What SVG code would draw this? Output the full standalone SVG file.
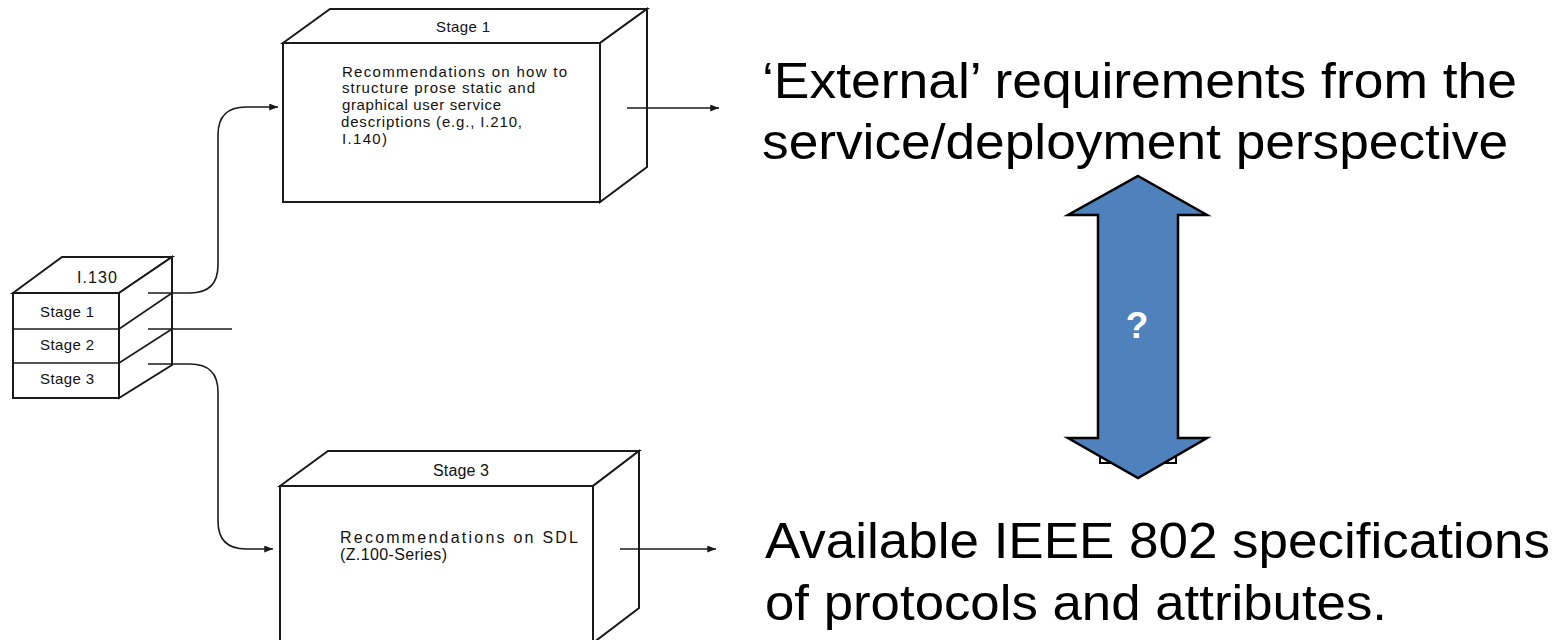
<svg xmlns="http://www.w3.org/2000/svg" width="1565" height="640" viewBox="0 0 1565 640">
<defs>
<style>
.box{fill:#fff;stroke:#1a1a1a;stroke-width:2;stroke-linejoin:miter}
.ln{fill:none;stroke:#1a1a1a;stroke-width:1.6}
.sm{font-family:"Liberation Sans",Arial,sans-serif;font-size:15px;fill:#111}
.md{font-family:"Liberation Sans",Arial,sans-serif;font-size:16px;fill:#111}
.big{font-family:"Liberation Sans",Arial,sans-serif;font-size:50px;fill:#000}
</style>
<marker id="ah" viewBox="0 0 10 8" refX="10" refY="4" markerWidth="9" markerHeight="7" markerUnits="userSpaceOnUse" orient="auto">
<path d="M0,0 L10,4 L0,8 z" fill="#1a1a1a"/>
</marker>
</defs>
<rect width="1565" height="640" fill="#fff"/>

<g id="stage1-box">
<polygon class="box" points="283,43 330,9 647,9 600,43"/>
<polygon class="box" points="600,43 647,9 647,167 600,202"/>
<rect class="box" x="283" y="43" width="317" height="159"/>
<text class="sm" x="436" y="32" textLength="54" lengthAdjust="spacing">Stage 1</text>
<text class="sm" x="342" y="77" textLength="225" lengthAdjust="spacing">Recommendations on how to</text>
<text class="sm" x="342" y="93" textLength="193" lengthAdjust="spacing">structure prose static and</text>
<text class="sm" x="342" y="110" textLength="159" lengthAdjust="spacing">graphical user service</text>
<text class="sm" x="341" y="127" textLength="181" lengthAdjust="spacing">descriptions (e.g., I.210,</text>
<text class="sm" x="342" y="144" textLength="45" lengthAdjust="spacing">I.140)</text>
</g>

<g id="stage3-box">
<polygon class="box" points="280,486 328,451 639,451 593,486"/>
<polygon class="box" points="593,486 639,451 639,608 593,643"/>
<rect class="box" x="280" y="486" width="313" height="170"/>
<text class="md" x="433" y="476" textLength="56" lengthAdjust="spacing">Stage 3</text>
<text class="md" x="340" y="543" textLength="238" lengthAdjust="spacing">Recommendations on SDL</text>
<text class="md" x="340" y="560" textLength="107" lengthAdjust="spacing">(Z.100-Series)</text>
</g>

<g id="i130-box">
<polygon class="box" points="13,293 62,257 172,257 119,293"/>
<polygon class="box" points="119,293 172,257 172,365 119,398"/>
<rect class="box" x="13" y="293" width="106" height="105"/>
<line class="ln" x1="13" y1="329" x2="119" y2="329"/>
<line class="ln" x1="13" y1="363" x2="119" y2="363"/>
<line class="ln" x1="119" y1="329" x2="172" y2="293"/>
<line class="ln" x1="119" y1="363" x2="172" y2="329"/>
<text class="md" x="77" y="283" textLength="40" lengthAdjust="spacing">I.130</text>
<text class="sm" x="40" y="317" textLength="54" lengthAdjust="spacing">Stage 1</text>
<text class="sm" x="40" y="350" textLength="54" lengthAdjust="spacing">Stage 2</text>
<text class="sm" x="40" y="384" textLength="54" lengthAdjust="spacing">Stage 3</text>
</g>

<g id="connectors">
<path class="ln" d="M148,293 H190 Q218,293 218,265 V135 Q218,107 246,107 H278" marker-end="url(#ah)"/>
<path class="ln" d="M148,329 H232"/>
<path class="ln" d="M148,364 H190 Q218,364 218,392 V521 Q218,549 246,549 H273" marker-end="url(#ah)"/>
<path class="ln" d="M627,108 H719" marker-end="url(#ah)"/>
<path class="ln" d="M620,549 H716" marker-end="url(#ah)"/>
</g>

<g id="external-text">
<text class="big" x="762" y="98" textLength="755" lengthAdjust="spacingAndGlyphs">‘External’ requirements from the</text>
<text class="big" x="762" y="159" textLength="746" lengthAdjust="spacingAndGlyphs">service/deployment perspective</text>
</g>

<g id="ieee-text">
<text class="big" x="765" y="558" textLength="785" lengthAdjust="spacingAndGlyphs">Available IEEE 802 specifications</text>
<text class="big" x="765" y="620" textLength="622" lengthAdjust="spacingAndGlyphs">of protocols and attributes.</text>
</g>

<g id="double-arrow">
<rect x="1100" y="440" width="76" height="23" fill="none" stroke="#000" stroke-width="2"/>
<polygon points="1138,176 1207,215 1178,215 1178,438 1207,438 1138,478 1068,438 1098,438 1098,215 1068,215" fill="#4F81BD" stroke="#000" stroke-width="2.5" stroke-linejoin="miter"/>
<text x="1137" y="338" text-anchor="middle" font-family="Liberation Sans, Arial, sans-serif" font-size="37" font-weight="bold" fill="#fff">?</text>
</g>
</svg>
